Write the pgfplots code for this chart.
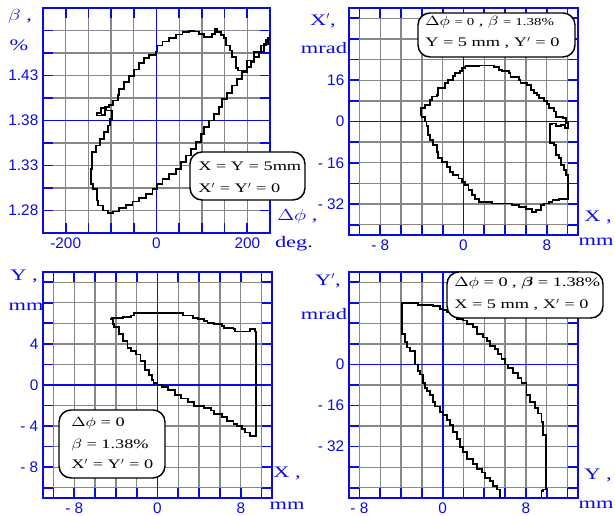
\documentclass[border=0pt]{standalone}
\usepackage{amsmath}
\usepackage{fontspec}
\setmainfont{Liberation Serif}
\newfontfamily\lab[FakeStretch=1.4]{Liberation Serif}
\newfontfamily\tck{Liberation Sans}
\usepackage{graphicx}
\usepackage{pgfplots}
\pgfplotsset{compat=1.18}
\definecolor{fblue}{RGB}{10,10,230}
\definecolor{fgrid}{RGB}{135,135,135}
\newcommand\wm[1]{\scalebox{1.3}[1]{#1}}

\pgfplotsset{
  panel/.style={
    scale only axis,
    anchor=south west,
    axis line style={fblue, line width=1.4pt},
    grid=major,
    major grid style={fgrid, line width=1pt},
    major tick length=7.5pt,
    tick align=inside,
    tick style={fblue, line width=1.3pt},
    tick label style={font=\tck\fontsize{11.5}{12}\selectfont, text=fblue},
    extra tick style={major grid style={fblue, line width=1.4pt}},
    extra x tick labels={{}}, extra y tick labels={{}},
  },
  curve/.style={black, line width=1.4pt, no marks, const plot},
}

\begin{document}
\begin{tikzpicture}

% top left: beta vs phase
\begin{axis}[panel, at={(32.25pt,212.25pt)}, width=170.25pt, height=168.75pt,
  xmin=-250, xmax=250, ymin=1.255, ymax=1.505,
  xtick={-200,-150,...,200}, xticklabels={-200,,,,0,,,,200},
  ytick={1.28,1.305,1.33,1.355,1.38,1.405,1.43,1.455,1.48},
  yticklabels={1.28,,1.33,,1.38,,1.43,,},
  extra x ticks={0}, extra y ticks={1.38}]
\addplot[curve] coordinates {
(250,1.4700) (240.3,1.4633) (229.3,1.4559) (214.7,1.4467) (200.0,1.4337)
(189.0,1.4263) (178.0,1.4189) (167.1,1.4107) (156.1,1.4041) (145.1,1.3948)
(137.7,1.3874) (126.8,1.3800) (115.8,1.3726) (104.8,1.3652) (97.5,1.3559)
(86.5,1.3485) (75.5,1.3411) (64.5,1.3337) (53.5,1.3263) (42.5,1.3207)
(27.8,1.3152) (13.2,1.3096) (0.7,1.3041) (-8.8,1.2985) (-23.4,1.2937)
(-38.1,1.2900) (-52.8,1.2863) (-67.4,1.2826) (-82.1,1.2789) (-96.7,1.2774)
(-107.7,1.2800) (-118.7,1.2856) (-129.7,1.2911) (-131.9,1.3041) (-140.7,1.3096)
(-144.3,1.3263) (-142.1,1.3448) (-133.4,1.3522) (-124.6,1.3596) (-115.0,1.3670)
(-107.7,1.3744) (-102.6,1.3819) (-98.2,1.3911) (-111.4,1.3937) (-122.4,1.3885)
(-131.9,1.3856) (-120.2,1.3863) (-112.8,1.3948) (-104.0,1.3974) (-96.7,1.4022)
(-85.7,1.4085) (-82.1,1.4152) (-71.1,1.4226) (-60.1,1.4293) (-49.1,1.4367)
(-38.1,1.4437) (-27.1,1.4493) (-16.1,1.4530) (-1.5,1.4567) (2.2,1.4633)
(13.2,1.4678) (27.8,1.4719) (42.5,1.4756) (57.2,1.4781) (71.8,1.4796)
(82.8,1.4789) (93.8,1.4763) (104.8,1.4726) (117.2,1.4726) (123.1,1.4763)
(129.0,1.4819) (134.1,1.4781) (141.4,1.4752) (148.7,1.4715) (153.9,1.4633)
(161.2,1.4578) (167.1,1.4504) (174.4,1.4381) (180.2,1.4356) (192.7,1.4356)
(200.0,1.4393) (207.4,1.4448) (214.7,1.4504) (225.7,1.4567) (236.7,1.4652)
(246.2,1.4719) (250,1.4763)};
\end{axis}

% top right: X' vs X
\begin{axis}[panel, at={(261.75pt,210.75pt)}, width=171.75pt, height=170.25pt,
  xmin=-11, xmax=11, ymin=-44, ymax=44,
  xtick={-10,-8,...,10}, xticklabels={,- 8,,,,0,,,,8,},
  ytick={-40,-32,...,40}, yticklabels={,- 32,,- 16,,0,,16,,,},
  extra x ticks={0}, extra y ticks={0}]
\addplot[curve] coordinates {
(0.16,21.4) (1.45,21.7) (2.90,21.2) (3.39,20.1) (3.71,19.5) (4.35,18.8)
(4.52,17.1) (5.32,16.2) (5.48,14.9) (6.13,14.3) (6.45,12.3) (6.77,11.0)
(7.10,10.4) (7.26,9.1) (7.74,7.8) (8.06,6.8) (8.23,5.2) (8.71,3.9)
(8.87,1.9) (9.52,1.3) (9.84,-0.6) (10.0,-2.6) (9.77,-1.3) (9.35,-1.7)
(8.87,-0.8) (8.55,-1.0) (8.32,-1.9) (8.32,-8.4) (8.71,-9.1) (8.87,-13.0)
(9.19,-14.3) (9.35,-16.9) (9.68,-18.8) (9.84,-20.8) (10.0,-23.4) (10.0,-29.9)
(9.19,-30.5) (8.55,-31.2) (8.23,-31.8) (7.74,-32.5) (7.42,-34.4) (6.94,-35.1)
(6.61,-33.8) (5.97,-33.1) (5.32,-32.5) (4.68,-31.8) (3.39,-31.8) (2.74,-31.2)
(1.77,-31.2) (1.45,-29.9) (1.13,-28.6) (0.81,-26.6) (0.48,-24.7) (0.16,-23.4)
(-0.16,-22.1) (-0.48,-20.8) (-0.97,-19.5) (-1.29,-17.5) (-1.61,-15.6) (-2.10,-14.3)
(-2.42,-11.7) (-2.58,-9.1) (-2.90,-7.1) (-3.23,-5.2) (-3.39,-1.9) (-3.55,0)
(-3.71,1.9) (-4.03,2.6) (-4.10,5.2) (-3.71,6.5) (-3.23,8.4) (-3.06,9.7)
(-2.58,10.4) (-2.42,13.0) (-1.77,14.9) (-1.45,16.2) (-0.97,17.5) (-0.81,18.8)
(-0.32,19.5) (-0.16,20.8) (0.16,21.4)};
\end{axis}

% bottom left: Y vs X
\begin{axis}[panel, at={(32.25pt,13.5pt)}, width=171.75pt, height=169.5pt,
  xmin=-11, xmax=11, ymin=-11, ymax=11,
  xtick={-10,-8,...,10}, xticklabels={,- 8,,,,0,,,,8,},
  ytick={-10,-8,...,10}, yticklabels={,- 8,,- 4,,0,,4,,,},
  extra x ticks={0}, extra y ticks={0}]
\addplot[curve] coordinates {
(-4.45,6.50) (-3.35,6.60) (-2.57,6.77) (-2.26,7.00) (2.29,7.00) (2.45,6.77)
(3.39,6.53) (3.86,6.44) (4.48,6.27) (4.80,6.01) (5.42,5.94) (6.21,5.78)
(6.36,5.54) (7.30,5.45) (7.46,5.21) (8.71,5.21) (8.87,5.45) (9.18,5.45)
(9.34,5.21) (9.50,5.21) (9.50,-4.95) (9.03,-4.95) (8.87,-4.62) (8.40,-4.29)
(8.09,-3.96) (7.62,-3.80) (7.30,-3.47) (6.68,-3.14) (6.21,-2.81) (5.42,-2.48)
(5.11,-2.24) (4.48,-2.05) (3.54,-1.65) (2.92,-1.32) (2.29,-0.99) (1.66,-0.50)
(1.03,-0.17) (0.41,0) (0,0.17) (-0.38,0.50) (-0.53,0.99) (-0.85,1.49)
(-1.16,2.31) (-1.63,2.97) (-2.10,3.30) (-2.57,3.63) (-2.88,4.29) (-3.35,4.95)
(-3.67,5.61) (-4.14,5.94) (-4.30,6.44) (-4.45,6.50)};
\end{axis}

% bottom right: Y' vs Y
\begin{axis}[panel, at={(261.75pt,13.5pt)}, width=171.75pt, height=169.5pt,
  xmin=-9, xmax=13, ymin=-52, ymax=36,
  xtick={-8,-6,...,12}, xticklabels={- 8,,,,0,,,,8,,},
  ytick={-48,-40,...,32}, yticklabels={,,- 32,,- 16,,0,,,,},
  extra x ticks={0}, extra y ticks={0}]
\addplot[curve] coordinates {
(5.85,-51.8) (5.50,-48.7) (5.18,-47.4) (4.86,-45.4) (4.54,-44.1) (4.06,-42.1)
(3.74,-40.8) (3.26,-38.8) (2.94,-36.8) (2.30,-34.2) (1.98,-32.2) (1.66,-28.9)
(1.34,-26.3) (1.02,-23.7) (0.70,-21.7) (0.38,-19.7) (0.06,-18.4) (-0.26,-16.4)
(-0.73,-14.5) (-0.89,-11.8) (-1.21,-10.5) (-1.53,-9.2) (-1.69,-7.2) (-1.85,-3.9)
(-2.17,-2.6) (-2.33,0) (-2.65,1.3) (-2.65,5.3) (-3.13,6.6) (-3.45,8.6)
(-3.61,11.8) (-3.93,13.2) (-3.93,23.9) (-2.49,23.9) (-2.33,23.0) (-0.89,22.6)
(-0.26,21.7) (0.06,21.1) (0.38,20.4) (1.02,19.1) (1.34,17.8) (1.98,17.1)
(2.30,15.8) (2.94,14.5) (3.26,11.8) (3.90,10.5) (4.22,9.2) (4.54,7.2)
(5.02,5.9) (5.34,3.9) (5.65,2.0) (5.97,0) (6.29,-1.3) (6.77,-3.3)
(7.25,-5.3) (7.57,-7.2) (8.05,-11.8) (8.37,-14.5) (8.85,-17.1) (9.17,-19.1)
(9.49,-22.4) (9.65,-27.6) (9.90,-28.3) (9.90,-48.7) (9.65,-49.3) (9.49,-51.8)};
\end{axis}

% labels and text boxes, in reference pixel coordinates
\begin{scope}[x=0.75pt, y=-0.75pt, shift={(0pt,387pt)},
  lbl/.style={text=fblue, font=\lab\fontsize{12}{13}\selectfont, inner sep=0pt},
  bx/.style={black, line width=1.1pt, rounded corners=9pt, fill=white},
  bt/.style={anchor=west, inner sep=0pt, font=\lab\fontsize{9.8}{11}\selectfont}]
\node[lbl] at (20,17) {\wm{$\beta$} ,};
\node[lbl] at (19,45) {\%};
\node[lbl, anchor=west] at (277,217) {\wm{$\Delta\phi$} ,};
\node[lbl] at (294,244) {deg.};

\node[lbl] at (323,21) {X$'$,};
\node[lbl] at (324,48) {mrad};
\node[lbl] at (598,218) {X ,};
\node[lbl] at (596,242) {mm};

\node[lbl] at (24,277) {Y ,};
\node[lbl] at (26,307) {mm};
\node[lbl] at (287,474) {X ,};
\node[lbl] at (287,506) {mm};

\node[lbl] at (328,281) {Y$'$,};
\node[lbl] at (324,314) {mrad};
\node[lbl] at (598,476) {Y ,};
\node[lbl] at (596,505) {mm};

\draw[bx] (190,152) rectangle (305,200);
\node[bt] at (198,166) {X = Y = 5mm};
\node[bt] at (198,188) {X$'$ = Y$'$ = 0};

\draw[bx] (418,13) rectangle (575,57);
\node[bt] at (425,22) {\wm{$\Delta\phi$} {\fontsize{8}{9}\selectfont= 0} , \wm{$\beta$} {\fontsize{8}{9}\selectfont= 1.38\%}};
\node[bt] at (425,43) {Y = 5 mm , Y$'$ = 0};

\draw[bx] (59,410) rectangle (165,478);
\node[bt] at (71,423) {\wm{$\Delta\phi$} = 0};
\node[bt] at (71,445) {\wm{$\beta$} = 1.38\%};
\node[bt] at (71,464) {X$'$ = Y$'$ = 0};

\draw[bx] (447,272) rectangle (603,318);
\node[bt] at (454,283) {\wm{$\Delta\phi$} = 0 , \wm{$\boldsymbol{\beta}$} = 1.38\%};
\node[bt] at (454,305) {X = 5 mm , X$'$ = 0};
\end{scope}

\pgfresetboundingbox
\path (0pt,0pt) rectangle (461.25pt,387pt);
\end{tikzpicture}
\end{document}
